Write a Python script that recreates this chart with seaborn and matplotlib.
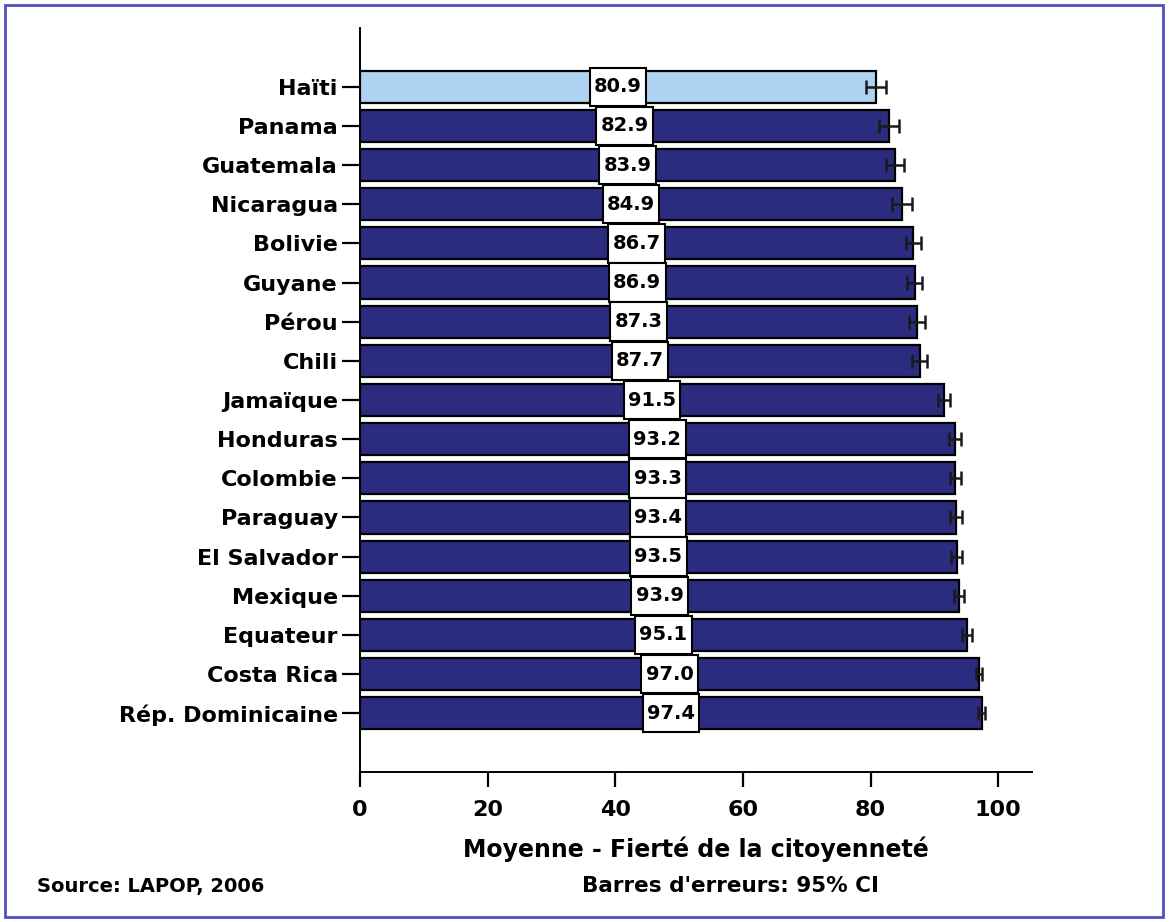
import matplotlib
matplotlib.use('Agg')
from matplotlib import pyplot as plt
from matplotlib.patches import Rectangle
from matplotlib.path import Path
import pandas as pd
import seaborn as sns

countries = ['Haïti', 'Panama', 'Guatemala', 'Nicaragua', 'Bolivie', 'Guyane', 'Pérou',
             'Chili', 'Jamaïque', 'Honduras', 'Colombie', 'Paraguay', 'El Salvador',
             'Mexique', 'Equateur', 'Costa Rica', 'Rép. Dominicaine']
means = [80.9, 82.9, 83.9, 84.9, 86.7, 86.9, 87.3, 87.7, 91.5, 93.2, 93.3, 93.4, 93.5,
         93.9, 95.1, 97.0, 97.4]
ci = [1.6, 1.5, 1.4, 1.6, 1.2, 1.2, 1.2, 1.2, 1.0, 0.9, 0.9, 0.9, 0.9, 0.8, 0.8, 0.5, 0.5]

df = pd.DataFrame({'Pays': countries, 'Moyenne': means, 'CI': ci})

navy = '#2b2b80'
light = '#aed2f1'
colors = [light] + [navy] * (len(countries) - 1)

sns.set_style('white', {'xtick.bottom': True, 'ytick.left': True,
                        'axes.edgecolor': 'black', 'text.color': 'black',
                        'xtick.color': 'black', 'ytick.color': 'black',
                        'axes.labelcolor': 'black'})
plt.rcParams['font.family'] = ['DejaVu Sans']


# white label box, more padding top/bottom than left/right
def label_box(x0, y0, width, height, mutation_size):
    px = 0.22 * mutation_size
    py = 0.5 * mutation_size
    x0, y0 = x0 - px, y0 - py
    x1, y1 = x0 + width + 2 * px, y0 + height + 2 * py
    return Path([(x0, y0), (x1, y0), (x1, y1), (x0, y1), (x0, y0)], closed=True)


fig = plt.figure(figsize=(11.69, 9.22), dpi=100)
ax = fig.add_axes([360 / 1169, 1 - 772 / 922, 672 / 1169, 744 / 922])

sns.barplot(data=df, x='Moyenne', y='Pays', hue='Pays', palette=colors, legend=False,
            orient='h', width=0.82, saturation=1, edgecolor='black', linewidth=1.6, ax=ax)
ax.errorbar(df['Moyenne'], range(len(df)), xerr=df['CI'], fmt='none',
            ecolor='#1a1a1a', elinewidth=1.8, capsize=5, capthick=1.8)

for i, v in enumerate(means):
    ax.text(v / 2, i, f'{v:.1f}', ha='center', va='center', fontsize=14,
            fontweight='bold', color='black',
            bbox=dict(boxstyle=label_box, facecolor='white', edgecolor='black',
                      linewidth=1.5))

ax.set_xlim(0, 105.3)
ax.set_ylim(len(countries) - 1 + 1.5, -1.5)
ax.set_xticks([0, 20, 40, 60, 80, 100])
ax.tick_params(axis='x', direction='out', length=11, width=1.6, labelsize=16, pad=9)
ax.tick_params(axis='y', direction='out', length=13, width=1.6, labelsize=16, pad=3)
for lab in ax.get_xticklabels() + ax.get_yticklabels():
    lab.set_fontweight('bold')
ax.spines['top'].set_visible(False)
ax.spines['right'].set_visible(False)
ax.spines['left'].set_linewidth(1.4)
ax.spines['bottom'].set_linewidth(1.4)
ax.set_ylabel('')
ax.set_xlabel('Moyenne - Fierté de la citoyenneté', fontsize=17, fontweight='bold',
              labelpad=12)

fig.text(37 / 1169, 1 - 886 / 922, 'Source: LAPOP, 2006', fontsize=14, fontweight='bold',
         va='center', ha='left')
fig.text(731 / 1169, 1 - 886 / 922, "Barres d'erreurs: 95% CI", fontsize=15.5,
         fontweight='bold', va='center', ha='center')

fig.patches.append(Rectangle((5 / 1169, 5 / 922), 1158 / 1169, 912 / 922,
                             transform=fig.transFigure, fill=False,
                             edgecolor='#5050c0', linewidth=2))

fig.savefig('out.png', dpi=100)
